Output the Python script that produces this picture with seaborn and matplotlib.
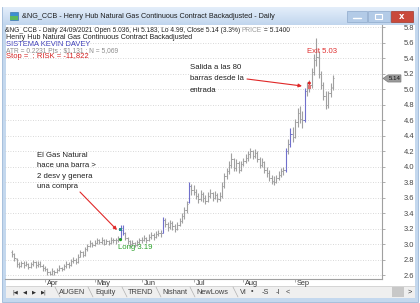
import numpy as np
import pandas as pd
import matplotlib
matplotlib.use("Agg")
import matplotlib.pyplot as plt
import seaborn as sns
from matplotlib.patches import Rectangle, Polygon
import matplotlib.transforms as mtrans

# ---------------- data ----------------
mar_o = [2.90, 2.88, 2.81, 2.74, 2.72, 2.76, 2.73, 2.75, 2.71, 2.74, 2.77, 2.73, 2.75, 2.72]
mar_h = [2.93, 2.89, 2.82, 2.77, 2.79, 2.78, 2.79, 2.76, 2.77, 2.80, 2.78, 2.78, 2.79, 2.74]
mar_l = [2.84, 2.79, 2.71, 2.69, 2.71, 2.70, 2.72, 2.68, 2.70, 2.72, 2.70, 2.71, 2.71, 2.66]
mar_c = [2.88, 2.82, 2.74, 2.72, 2.76, 2.73, 2.75, 2.71, 2.74, 2.77, 2.73, 2.75, 2.72, 2.70]

apr_o = [2.70, 2.68, 2.64, 2.62, 2.66, 2.64, 2.67, 2.70, 2.68, 2.72, 2.75, 2.73, 2.78, 2.80, 2.77, 2.84, 2.90, 2.86, 2.94, 2.98, 3.02]
apr_h = [2.72, 2.69, 2.66, 2.69, 2.67, 2.70, 2.73, 2.71, 2.75, 2.78, 2.77, 2.81, 2.83, 2.82, 2.87, 2.93, 2.91, 2.97, 3.01, 3.05, 3.03]
apr_l = [2.65, 2.61, 2.60, 2.61, 2.61, 2.63, 2.66, 2.65, 2.67, 2.70, 2.70, 2.72, 2.76, 2.74, 2.76, 2.83, 2.83, 2.85, 2.92, 2.96, 2.96]
apr_c = [2.68, 2.64, 2.62, 2.66, 2.64, 2.67, 2.70, 2.68, 2.72, 2.75, 2.73, 2.78, 2.80, 2.77, 2.84, 2.90, 2.86, 2.94, 2.98, 3.02, 2.99]

may_o = [2.99, 3.02, 3.05, 3.03, 3.06, 3.01, 3.04, 3.02, 3.06, 3.05, 3.05, 3.08, 3.19, 3.15, 3.08, 3.04, 3.00, 3.02, 2.99, 3.03]
may_h = [3.05, 3.08, 3.07, 3.09, 3.07, 3.07, 3.06, 3.09, 3.08, 3.08, 3.11, 3.25, 3.25, 3.16, 3.10, 3.06, 3.06, 3.03, 3.06, 3.08]
may_l = [2.98, 3.00, 3.00, 3.01, 2.99, 3.00, 2.99, 3.01, 3.02, 3.01, 3.03, 3.07, 3.12, 3.06, 3.01, 2.97, 2.98, 2.96, 2.98, 3.01]
may_c = [3.02, 3.05, 3.03, 3.06, 3.01, 3.04, 3.02, 3.06, 3.05, 3.05, 3.08, 3.21, 3.15, 3.08, 3.04, 3.00, 3.02, 2.99, 3.03, 3.05]

jun_o = [3.05, 3.06, 3.08, 3.05, 3.10, 3.12, 3.09, 3.13, 3.15, 3.15, 3.32, 3.26, 3.22, 3.28, 3.24, 3.20, 3.25, 3.30, 3.36, 3.44, 3.54, 3.75]
jun_h = [3.10, 3.12, 3.10, 3.13, 3.16, 3.14, 3.17, 3.19, 3.18, 3.35, 3.34, 3.29, 3.32, 3.30, 3.26, 3.29, 3.34, 3.40, 3.48, 3.56, 3.80, 3.78]
jun_l = [3.02, 3.04, 3.02, 3.04, 3.07, 3.06, 3.08, 3.11, 3.10, 3.14, 3.22, 3.17, 3.20, 3.19, 3.16, 3.18, 3.23, 3.28, 3.33, 3.41, 3.53, 3.64]
jun_c = [3.06, 3.08, 3.05, 3.10, 3.12, 3.09, 3.13, 3.15, 3.14, 3.32, 3.26, 3.22, 3.28, 3.24, 3.20, 3.25, 3.30, 3.36, 3.44, 3.52, 3.75, 3.70]

jul_o = [3.70, 3.68, 3.62, 3.58, 3.65, 3.60, 3.56, 3.62, 3.66, 3.60, 3.64, 3.58, 3.62, 3.75, 3.88, 3.95, 4.02, 4.10, 3.98, 4.05, 3.96]
jul_h = [3.76, 3.72, 3.66, 3.70, 3.68, 3.63, 3.67, 3.72, 3.68, 3.69, 3.66, 3.67, 3.80, 3.92, 3.99, 4.08, 4.18, 4.12, 4.10, 4.07, 4.08]
jul_l = [3.63, 3.58, 3.53, 3.56, 3.55, 3.52, 3.54, 3.60, 3.56, 3.58, 3.54, 3.56, 3.60, 3.73, 3.84, 3.91, 3.99, 3.94, 3.95, 3.92, 3.94]
jul_c = [3.68, 3.62, 3.58, 3.65, 3.60, 3.56, 3.62, 3.66, 3.60, 3.64, 3.58, 3.62, 3.75, 3.88, 3.95, 4.02, 4.10, 3.98, 4.05, 3.96, 4.04]

aug_o = [4.04, 4.08, 4.12, 4.16, 4.20, 4.14, 4.18, 4.10, 4.02, 4.06, 3.96, 3.92, 3.86, 3.82, 3.80, 3.85, 3.90, 3.94, 3.96, 4.20, 4.30, 4.42]
aug_h = [4.12, 4.16, 4.20, 4.24, 4.22, 4.23, 4.20, 4.13, 4.12, 4.08, 4.00, 3.96, 3.90, 3.88, 3.90, 3.95, 3.98, 4.00, 4.24, 4.36, 4.50, 4.52]
aug_l = [4.01, 4.05, 4.08, 4.12, 4.10, 4.11, 4.06, 3.98, 4.00, 3.92, 3.87, 3.82, 3.78, 3.76, 3.79, 3.83, 3.87, 3.90, 3.93, 4.16, 4.26, 4.32]
aug_c = [4.08, 4.12, 4.16, 4.20, 4.14, 4.18, 4.10, 4.02, 4.06, 3.96, 3.92, 3.86, 3.82, 3.80, 3.85, 3.90, 3.94, 3.96, 4.20, 4.30, 4.42, 4.38]

sep_o = [4.38, 4.58, 4.70, 4.62, 4.60, 4.98, 5.04, 5.06, 5.22, 5.38, 5.42, 5.20, 5.05, 4.92, 4.80, 4.95, 5.036]
sep_h = [4.62, 4.76, 4.78, 4.72, 5.02, 5.10, 5.12, 5.28, 5.45, 5.66, 5.50, 5.24, 5.10, 4.98, 4.98, 5.08, 5.183]
sep_l = [4.37, 4.52, 4.56, 4.50, 4.58, 4.92, 4.96, 5.02, 5.18, 5.30, 5.15, 5.00, 4.86, 4.75, 4.76, 4.90, 4.99]
sep_c = [4.58, 4.70, 4.62, 4.60, 4.98, 5.04, 5.06, 5.22, 5.38, 5.42, 5.20, 5.05, 4.92, 4.80, 4.95, 5.02, 5.14]

holidays = ["2021-04-02", "2021-05-31", "2021-07-05", "2021-09-06"]
signal_bars = [46, 47, 64, 75, 116, 118, 124]   # bars painted blue
entry_bar, entry_price = 46, 3.19
exit_bar, exit_price = 126, 5.03
last_price = 5.14
month_names = ["Apr", "May", "Jun", "Jul", "Aug", "Sep"]
y_ticks = [2.6, 2.8, 3.0, 3.2, 3.4, 3.6, 3.8, 4.0, 4.2, 4.4, 4.6, 4.8, 5.0, 5.2, 5.4, 5.6, 5.8]

opens = mar_o + apr_o + may_o + jun_o + jul_o + aug_o + sep_o
highs = mar_h + apr_h + may_h + jun_h + jul_h + aug_h + sep_h
lows = mar_l + apr_l + may_l + jun_l + jul_l + aug_l + sep_l
closes = mar_c + apr_c + may_c + jun_c + jul_c + aug_c + sep_c

dates = pd.bdate_range("2021-03-12", "2021-09-24")
dates = dates[~dates.isin(pd.to_datetime(holidays))]
df = pd.DataFrame({"date": dates, "open": opens, "high": highs, "low": lows, "close": closes})
df["i"] = np.arange(len(df))
df["sig"] = df["i"].isin(signal_bars)
month_idx = [int(df.index[df["date"].dt.month == m][0]) for m in range(4, 10)]

# ---------------- figure ----------------
sns.set_theme(style="white")
plt.rcParams["font.family"] = ["Liberation Sans", "DejaVu Sans"]

W, H = 420, 303
fig = plt.figure(figsize=(4.2, 3.03), dpi=100)
fig.patch.set_facecolor("white")
renderer = fig.canvas.get_renderer()

def fx(x): return x / W
def fy(y): return 1 - y / H

ov = fig.add_axes([0, 0, 1, 1])
ov.set_xlim(0, W); ov.set_ylim(H, 0); ov.axis("off"); ov.set_zorder(0)

# window chrome
ov.add_patch(Rectangle((2, 7), 416, 295, fc="#c4d8ee", ec="#9db8d8", lw=0.6))
grad = np.linspace(0, 1, 18)[:, None]
ov.imshow(grad, extent=(2.5, 417.5, 25, 7.5), cmap=matplotlib.colors.LinearSegmentedColormap.from_list(
    "tb", ["#e4eefa", "#c2d6ee"]), aspect="auto", zorder=1)
ov.add_patch(Rectangle((6, 25), 409, 262, fc="white", ec="none", zorder=1))
ov.add_patch(Rectangle((10, 12), 8, 8, fc="#3d8fd0", ec="#2a6aa0", lw=0.4, zorder=2))
ov.add_patch(Rectangle((10, 16), 8, 4, fc="#5cb85c", ec="none", zorder=2))
ov.add_patch(Rectangle((347, 11), 20, 11, fc="#b3cbe7", ec="#8ea9cb", lw=0.5, zorder=2))
ov.plot([353, 361], [18, 18], color="white", lw=1.0, zorder=3)
ov.add_patch(Rectangle((368, 11), 22, 11, fc="#b3cbe7", ec="#8ea9cb", lw=0.5, zorder=2))
ov.add_patch(Rectangle((375, 14), 7, 5, fc="none", ec="white", lw=0.8, zorder=3))
ov.add_patch(Rectangle((391, 11), 22, 11, fc="#c9493b", ec="#a33628", lw=0.5, zorder=2))
ov.text(402, 16.5, "x", color="white", fontsize=6, fontweight="bold", ha="center", va="center",
        family="DejaVu Sans", zorder=3)
ov.set_xlim(0, W); ov.set_ylim(H, 0)

def put(x, y, s, w, color, size0=6.0, **kw):
    t = ov.text(x, y, s, fontsize=size0, color=color, va="center", ha="left", zorder=4, **kw)
    bb = t.get_window_extent(renderer)
    t.set_fontsize(size0 * w / bb.width)
    return t

put(22, 16.5, "&NG_CCB - Henry Hub Natural Gas Continuous Contract Backadjusted - Daily", 255, "#1e1e1e")

# header line 1 with a grey "PRICE"
l1a = "&NG_CCB - Daily 24/09/2021 Open 5.036, Hi 5.183, Lo 4.99, Close 5.14 (3.3%) "
l1b = "PRICE"
l1c = " = 5.1400"
t = ov.text(0, 0, l1a + l1b + l1c, fontsize=6)
fs = 6 * 288 / t.get_window_extent(renderer).width
t.remove()
xcur = 5
for seg, col in [(l1a, "#202020"), (l1b, "#9a9a9a"), (l1c, "#202020")]:
    tt = ov.text(xcur, 31, seg, fontsize=fs, color=col, va="center", ha="left", zorder=4)
    xcur += tt.get_window_extent(renderer).width
put(6, 37.5, "Henry Hub Natural Gas Continuous Contract Backadjusted", 187, "#202020")
put(6, 44, "SISTEMA KEVIN DAVEY", 84, "#3838b8")
put(6, 50.5, "ATR = 0.2231 Pts ; $1,131 ; N = 5,069", 114, "#8c8c8c")
put(6, 57, "Stop =  ; RISK = -11,822", 83, "#d42020")

# tab bar
ov.add_patch(Rectangle((6, 286), 409, 12, fc="#efefef", ec="none", zorder=2))
ov.plot([6, 415], [286, 286], color="#d0d0d0", lw=0.6, zorder=3)
for xx, s in [(15, "|◀"), (25, "◀"), (34, "▶"), (44, "▶|")]:
    ov.text(xx, 292, s, fontsize=3.8, color="#303030", ha="center", va="center", family="DejaVu Sans", zorder=4)
for xx, s in [(72, "AUGEN"), (106, "Equity"), (141, "TREND"), (174.5, "Nishant"), (212.5, "NewLows"),
              (243, "VI"), (252, "•"), (265, "-S"), (278, "-I"), (288, "<")]:
    ov.text(xx, 292, s, fontsize=5.3, color="#404040", ha="center", va="center", zorder=4)
for xx in [55, 88, 122, 156, 190, 233]:
    ov.plot([xx, xx + 5], [287, 297], color="#b0b0b0", lw=0.5, zorder=3)
ov.add_patch(Rectangle((392, 287), 12, 10, fc="#c8c8c8", ec="none", zorder=3))
ov.text(410, 292, ">", fontsize=5.3, color="#303030", ha="center", va="center", zorder=4)

# ---------------- price axes ----------------
ax = fig.add_axes([fx(5), fy(279), fx(382) - fx(5), fy(25) - fy(279)])
ax.set_zorder(2)
ax.patch.set_alpha(0)

def ix(x): return 14 + (x - 45) / 2.36
def py(y): return 2.6 + (275.3 - y) / 77.5

ax.set_xlim(ix(5), ix(382))
ax.set_ylim(py(279), py(25))

grey = df[~df["sig"]]
blue = df[df["sig"]]
for sub, col in [(grey, "#a0a0a0"), (blue, "#7070cc")]:
    ax.vlines(sub["i"], sub["low"], sub["high"], color=col, lw=0.8)
    ax.hlines(sub["open"], sub["i"] - 0.5, sub["i"], color=col, lw=0.7)
    ax.hlines(sub["close"], sub["i"], sub["i"] + 0.5, color=col, lw=0.7)

# entry / exit markers
mk = pd.DataFrame({
    "x": [entry_bar, entry_bar, exit_bar, exit_bar],
    "y": [entry_price, df.loc[entry_bar, "low"] - 0.01, exit_price, df.loc[exit_bar, "high"] - 0.04],
    "kind": ["es", "ed", "xs", "xd"],
})
sns.scatterplot(data=mk[mk.kind == "es"], x="x", y="y", marker="s", s=5, color="#2f8f8f",
                edgecolor="none", ax=ax, zorder=5, legend=False)
sns.scatterplot(data=mk[mk.kind == "ed"], x="x", y="y", marker="o", s=5, color="#20a020",
                edgecolor="none", ax=ax, zorder=5, legend=False)
sns.scatterplot(data=mk[mk.kind == "xs"], x="x", y="y", marker="s", s=6, color="#e07070",
                edgecolor="none", ax=ax, zorder=5, legend=False)
sns.scatterplot(data=mk[mk.kind == "xd"], x="x", y="y", marker="o", s=5, color="#e02020",
                edgecolor="none", ax=ax, zorder=5, legend=False)

ax.text(ix(118), py(247), "Long 3.19", color="#2aa02a", fontsize=5.6, ha="left", va="center")
ax.text(ix(307), py(51), "Exit 5.03", color="#e03030", fontsize=5.6, ha="left", va="center")

for k, s in enumerate(["El Gas Natural", "hace una barra >", "2 desv y genera", "una compra"]):
    ax.text(ix(37), py(155 + 10.5 * k), s, color="#202020", fontsize=5.6, ha="left", va="center")
for k, s in enumerate(["Salida a las 80", "barras desde la", "entrada"]):
    ax.text(ix(190), py(67 + 11.7 * k), s, color="#202020", fontsize=5.6, ha="left", va="center")

arrow = dict(arrowstyle="-|>", color="#e02828", lw=0.8, mutation_scale=5, shrinkA=0, shrinkB=0)
ax.annotate("", xy=(ix(117), py(230)), xytext=(ix(80), py(192)), arrowprops=arrow)
ax.annotate("", xy=(ix(302), py(86)), xytext=(ix(247), py(79)), arrowprops=arrow)

# axes styling
for s in ["top", "left"]:
    ax.spines[s].set_visible(False)
for s in ["right", "bottom"]:
    ax.spines[s].set_visible(True)
    ax.spines[s].set_color("#a0a0a0")
    ax.spines[s].set_linewidth(0.8)
ax.yaxis.tick_right()
ax.set_yticks(y_ticks)
ax.set_yticklabels([f"{v:.1f}" for v in y_ticks])
ax.grid(axis="y", ls=(0, (1, 2)), color="#cccccc", lw=0.6)
ax.grid(axis="x", visible=False)
ax.tick_params(axis="y", right=True, left=False, length=2, width=0.6, color="#a0a0a0",
               pad=13.5, labelsize=5.4, labelcolor="#454545")
ax.set_xticks(month_idx)
ax.set_xticklabels(month_names)
ax.tick_params(axis="x", bottom=True, length=2.5, width=0.6, color="#a0a0a0",
               pad=-1.5, labelsize=5.3, labelcolor="#353535")
off = mtrans.ScaledTranslation(2 / 100, 0, fig.dpi_scale_trans)
for lab in ax.get_xticklabels():
    lab.set_horizontalalignment("left")
    lab.set_transform(lab.get_transform() + off)
ax.set_xlabel(""); ax.set_ylabel("")

# last-price marker on the price axis
ypx = 275.3 - (last_price - 2.6) * 77.5
ov2 = fig.add_axes([0, 0, 1, 1])
ov2.set_xlim(0, W); ov2.set_ylim(H, 0); ov2.axis("off"); ov2.set_zorder(3); ov2.patch.set_alpha(0)
ov2.add_patch(Polygon([(383, ypx), (388, ypx - 3.6), (401, ypx - 3.6), (401, ypx + 3.6), (388, ypx + 3.6)],
                      closed=True, fc="#9c9c9c", ec="#6e6e6e", lw=0.4))
ov2.text(394.5, ypx, f"{last_price:.2f}", fontsize=4.4, color="#111111", ha="center", va="center")

fig.savefig("out.png", dpi=100)
